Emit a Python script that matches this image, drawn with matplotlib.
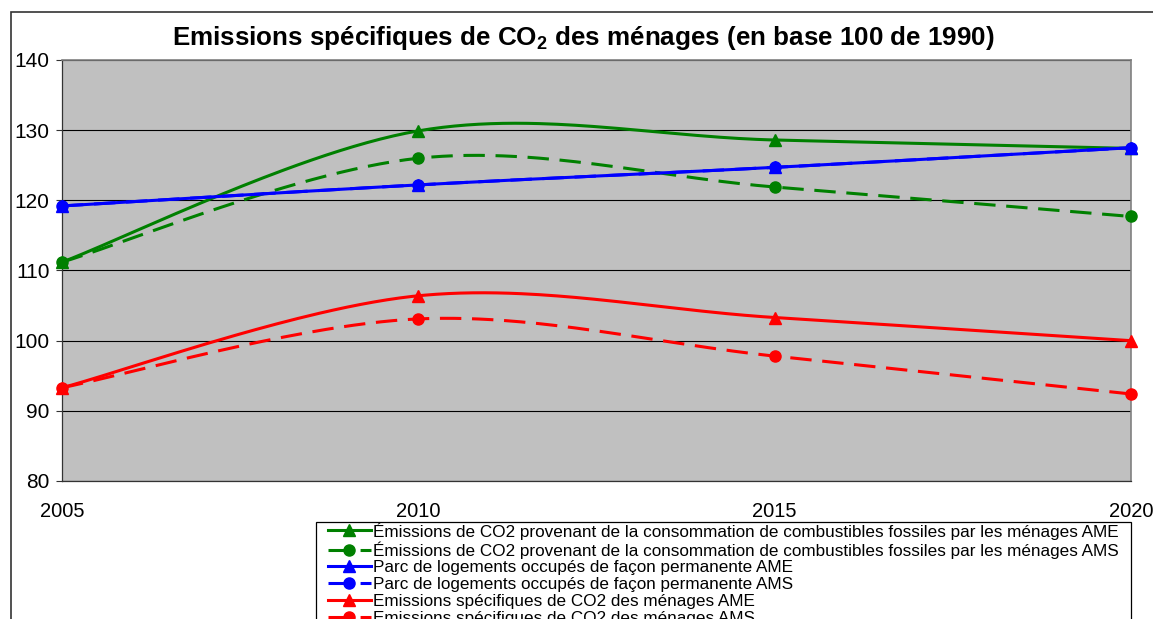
import matplotlib
matplotlib.use("Agg")
import matplotlib.pyplot as plt
import numpy as np
from matplotlib.patches import Rectangle
from matplotlib.lines import Line2D

plt.rcParams['font.family'] = ['Liberation Sans', 'DejaVu Sans']
plt.rcParams['mathtext.fontset'] = 'custom'
plt.rcParams['mathtext.rm'] = 'Liberation Sans'
plt.rcParams['mathtext.bf'] = 'Liberation Sans:bold'

# data
years = [2005, 2010, 2015, 2020]
co2_fossiles_ame = [111.2, 129.9, 128.6, 127.4]
co2_fossiles_ams = [111.2, 126.0, 121.9, 117.7]
logements_ame = [119.2, 122.2, 124.7, 127.5]
logements_ams = [119.2, 122.2, 124.7, 127.5]
specifiques_ame = [93.3, 106.4, 103.3, 100.0]
specifiques_ams = [93.3, 103.1, 97.8, 92.4]

labels = [
    "Émissions de CO2 provenant de la consommation de combustibles fossiles par les ménages AME",
    "Émissions de CO2 provenant de la consommation de combustibles fossiles par les ménages AMS",
    "Parc de logements occupés de façon permanente AME",
    "Parc de logements occupés de façon permanente AMS",
    "Emissions spécifiques de CO2 des ménages AME",
    "Emissions spécifiques de CO2 des ménages AMS",
]


def smooth(x, y, n=60):
    # Excel-like smoothed line: Catmull-Rom turned into cubic Bezier pieces
    p = np.column_stack([x, y]).astype(float)
    pts = [p[0]] + list(p) + [p[-1]]
    out = []
    for i in range(1, len(pts) - 2):
        p0, p1, p2, p3 = pts[i - 1], pts[i], pts[i + 1], pts[i + 2]
        c1 = p1 + (p2 - p0) / 6
        c2 = p2 - (p3 - p1) / 6
        t = np.linspace(0, 1, n)[:, None]
        seg = ((1 - t) ** 3) * p1 + 3 * ((1 - t) ** 2) * t * c1 + 3 * (1 - t) * t ** 2 * c2 + t ** 3 * p2
        out.append(seg if i == 1 else seg[1:])
    s = np.vstack(out)
    return s[:, 0], s[:, 1]


fig = plt.figure(figsize=(11.53, 6.19), dpi=100)
W, H = 1153, 619
ax = fig.add_axes([62 / W, 1 - 481 / H, (1131 - 62) / W, (481 - 60) / H])
ax.set_facecolor('#c0c0c0')

series = [
    (co2_fossiles_ame, 'green', '-', '^'),
    (co2_fossiles_ams, 'green', '--', 'o'),
    (logements_ame, 'blue', '-', '^'),
    (logements_ams, 'blue', '--', 'o'),
    (specifiques_ame, 'red', '-', '^'),
    (specifiques_ams, 'red', '--', 'o'),
]
lw = 2.2
handles = []
for vals, col, ls, mk in series:
    sx, sy = smooth(years, vals)
    line, = ax.plot(sx, sy, color=col, lw=lw, ls=ls, clip_on=False, zorder=3)
    if ls == '--':
        line.set_dashes((7, 3.5))
    ax.plot(years, vals, ls='none', marker=mk, ms=8, color=col, clip_on=False, zorder=4)
    h = Line2D([], [], color=col, lw=lw, ls=ls, marker=mk, ms=8)
    if ls == '--':
        h.set_dashes((7, 3.5))
    handles.append(h)

ax.set_xlim(2005, 2020)
ax.set_ylim(80, 140)
ax.set_xticks([2005, 2010, 2015, 2020])
ax.set_yticks(range(80, 141, 10))
ax.grid(axis='y', color='black', lw=0.8)
ax.set_axisbelow(True)
ax.tick_params(axis='y', labelsize=15, length=4, width=0.8, pad=5, color='#333333')
ax.tick_params(axis='x', labelsize=14.5, length=0, pad=15)
for side in ['top', 'right']:
    ax.spines[side].set_color('#808080')
    ax.spines[side].set_linewidth(1.2)
for side in ['left', 'bottom']:
    ax.spines[side].set_color('#333333')
    ax.spines[side].set_linewidth(0.9)

fig.text(583 / W, 1 - 38 / H,
         r"Emissions spécifiques de CO$_\mathbf{2}$ des ménages (en base 100 de 1990)",
         ha='center', va='center', fontsize=18.7, fontweight='bold')

# outer chart frame
fig.add_artist(Rectangle((11 / W, -0.1), 1.2, 1 - 12 / H + 0.1, transform=fig.transFigure,
                         fill=False, ec='#333333', lw=1.2))

# legend frame, cut by the bottom of the picture
fig.add_artist(Rectangle((316 / W, -0.1), (1131 - 316) / W, 0.1 + 1 - 522 / H,
                         transform=fig.transFigure, fill=False, ec='black', lw=0.9))
leg = fig.legend(handles, labels, loc='upper left', bbox_to_anchor=(328 / W, 1 - 522 / H),
                 fontsize=12.35, frameon=False, borderpad=0, labelspacing=0.1,
                 handlelength=2.5, handletextpad=0.12, borderaxespad=0)

fig.savefig('out.png', dpi=100)
